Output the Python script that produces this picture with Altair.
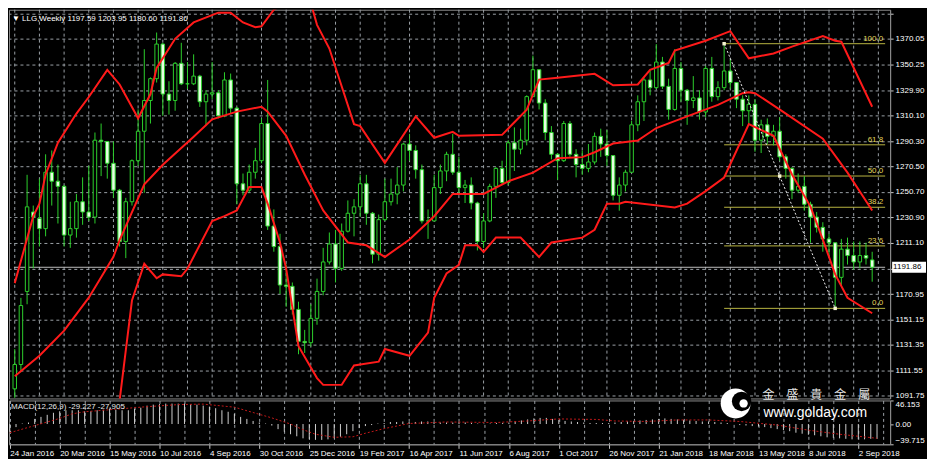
import json
import altair as alt
import pandas as pd

# ---------------- data (weekly candles, index 0 = week of 24 Jan 2016) ----------------
opens = [1097, 1116, 1173, 1235, 1230, 1222, 1266, 1259, 1255, 1217,
         1222, 1243, 1235, 1231, 1291, 1290, 1273, 1252, 1212, 1243,
         1275, 1298, 1322, 1339, 1366, 1327, 1322, 1351, 1335, 1335,
         1341, 1321, 1327, 1328, 1310, 1338, 1316, 1257, 1252, 1266,
         1275, 1304, 1224, 1208, 1178, 1177, 1159, 1134, 1133, 1152,
         1173, 1196, 1210, 1191, 1220, 1234, 1239, 1257, 1234, 1202,
         1229, 1243, 1249, 1256, 1288, 1283, 1268, 1228, 1228, 1254,
         1267, 1280, 1266, 1254, 1256, 1242, 1212, 1228, 1255, 1269,
         1258, 1289, 1284, 1291, 1325, 1346, 1320, 1297, 1280, 1275,
         1304, 1280, 1272, 1269, 1274, 1294, 1288, 1279, 1248, 1256,
         1266, 1303, 1321, 1338, 1332, 1352, 1333, 1315, 1347, 1330,
         1322, 1324, 1313, 1347, 1325, 1332, 1345, 1336, 1323, 1314,
         1319, 1291, 1303, 1294, 1298, 1278, 1269, 1252, 1255, 1241,
         1231, 1223, 1214, 1211, 1184, 1206, 1201, 1196, 1201, 1197.59]
highs = [1128, 1168, 1264, 1240, 1261, 1280, 1283, 1272, 1256, 1243,
         1249, 1262, 1271, 1297, 1304, 1290, 1290, 1253, 1246, 1276,
         1315, 1362, 1340, 1375, 1367, 1337, 1352, 1367, 1352, 1358,
         1342, 1330, 1352, 1330, 1344, 1343, 1317, 1265, 1272, 1285,
         1308, 1338, 1237, 1218, 1194, 1180, 1165, 1143, 1163, 1183,
         1207, 1219, 1221, 1226, 1244, 1245, 1264, 1264, 1235, 1233,
         1261, 1261, 1270, 1289, 1296, 1287, 1272, 1237, 1264, 1272,
         1282, 1296, 1278, 1260, 1262, 1243, 1234, 1257, 1270, 1275,
         1291, 1301, 1300, 1326, 1357, 1346, 1323, 1302, 1281, 1306,
         1306, 1284, 1283, 1288, 1297, 1300, 1299, 1279, 1262, 1268,
         1306, 1326, 1340, 1345, 1366, 1356, 1339, 1362, 1352, 1331,
         1341, 1330, 1349, 1356, 1337, 1365, 1354, 1336, 1326, 1326,
         1323, 1307, 1308, 1303, 1309, 1280, 1270, 1265, 1263, 1243,
         1235, 1227, 1218, 1211, 1214, 1215, 1212, 1212, 1211, 1203.95]
lows = [1090, 1110, 1163, 1191, 1208, 1216, 1240, 1226, 1208, 1207,
        1215, 1225, 1228, 1226, 1263, 1261, 1246, 1208, 1199, 1240,
        1271, 1250, 1304, 1336, 1310, 1311, 1314, 1334, 1331, 1334,
        1317, 1302, 1323, 1308, 1309, 1312, 1241, 1248, 1250, 1261,
        1273, 1221, 1204, 1171, 1161, 1155, 1124, 1125, 1130, 1147,
        1170, 1194, 1180, 1189, 1219, 1216, 1231, 1225, 1195, 1197,
        1228, 1240, 1241, 1251, 1275, 1261, 1226, 1214, 1228, 1249,
        1259, 1264, 1249, 1242, 1237, 1205, 1207, 1227, 1246, 1256,
        1256, 1267, 1280, 1287, 1325, 1315, 1291, 1276, 1260, 1274,
        1278, 1262, 1264, 1266, 1272, 1278, 1271, 1244, 1236, 1251,
        1266, 1298, 1306, 1326, 1331, 1331, 1307, 1314, 1321, 1303,
        1316, 1307, 1309, 1321, 1322, 1330, 1331, 1316, 1302, 1304,
        1282, 1281, 1288, 1287, 1275, 1261, 1245, 1250, 1236, 1211,
        1219, 1204, 1201, 1160, 1178, 1194, 1190, 1191, 1194, 1180.60]
closes = [1116, 1162, 1239, 1231, 1222, 1266, 1259, 1255, 1217, 1222,
          1243, 1235, 1231, 1291, 1290, 1273, 1252, 1212, 1243, 1275,
          1298, 1322, 1339, 1366, 1327, 1322, 1351, 1335, 1335, 1341,
          1321, 1327, 1328, 1310, 1338, 1316, 1257, 1252, 1266, 1275,
          1304, 1224, 1208, 1178, 1177, 1159, 1134, 1133, 1152, 1173,
          1196, 1210, 1191, 1220, 1234, 1239, 1257, 1234, 1202, 1229,
          1243, 1249, 1256, 1288, 1283, 1268, 1228, 1228, 1254, 1267,
          1280, 1266, 1254, 1256, 1242, 1212, 1228, 1255, 1269, 1258,
          1289, 1284, 1291, 1325, 1346, 1320, 1297, 1280, 1275, 1304,
          1280, 1272, 1269, 1274, 1294, 1288, 1279, 1248, 1256, 1266,
          1303, 1321, 1338, 1332, 1352, 1333, 1315, 1347, 1330, 1322,
          1324, 1313, 1347, 1325, 1332, 1345, 1336, 1323, 1314, 1319,
          1291, 1303, 1294, 1298, 1278, 1269, 1252, 1255, 1241, 1231,
          1223, 1214, 1211, 1184, 1206, 1201, 1196, 1201, 1199, 1191.86]
week_idx = list(range(len(closes)))

# Bollinger bands (week index, price)
upper_idx = [0, 3, 4, 5, 7, 10, 12, 15, 17, 20, 22, 23, 25, 26, 29, 33, 35, 37, 39, 40,
             42, 44, 46, 48, 49, 51, 55, 56, 60, 65, 68, 71, 72, 79, 83, 85, 88, 94, 97,
             101, 103, 106, 107, 112, 116, 119, 123, 126, 131, 133, 134, 139]
upper_val = [1179.5, 1231.7, 1241.5, 1264.2, 1289.1, 1311.8, 1324.7, 1345.9, 1334.5, 1308.1,
             1327.0, 1347.4, 1362.5, 1370.1, 1382.9, 1390.5, 1390.5, 1382.9, 1379.1, 1379.9,
             1392.8, 1398.0, 1418.0, 1398.0, 1381.0, 1362.5, 1303.5, 1302.0, 1273.3, 1309.6,
             1292.9, 1297.5, 1294.4, 1295.2, 1314.9, 1338.3, 1339.8, 1342.8, 1333.8, 1334.5,
             1345.9, 1351.2, 1361.0, 1368.6, 1376.1, 1354.9, 1358.7, 1364.0, 1372.3, 1368.6,
             1367.8, 1317.1]
mid_idx = [0, 4, 8, 12, 16, 17, 21, 24, 29, 32, 36, 40, 41, 44, 47, 50, 54, 57, 60, 64,
           68, 71, 76, 80, 84, 88, 92, 94, 97, 101, 104, 109, 114, 118, 119, 120, 125, 131,
           135, 139]
mid_val = [1106.9, 1122.8, 1142.4, 1168.1, 1200.0, 1213.0, 1256.6, 1271.8, 1293.7, 1307.3,
           1313.3, 1317.1, 1313.3, 1294.4, 1264.2, 1236.2, 1211.2, 1209.0, 1199.9, 1213.5,
           1231.7, 1249.1, 1249.1, 1258.9, 1265.7, 1277.0, 1277.8, 1281.6, 1288.4, 1290.7,
           1300.5, 1309.6, 1318.6, 1327.7, 1328.5, 1327.7, 1311.8, 1292.2, 1265.7, 1236.2]
low_idx = [0, 4, 8, 12, 15, 17, 19, 21, 23, 24, 27, 28, 32, 34, 36, 38, 40, 41, 43, 44,
           46, 49, 50, 53, 55, 59, 60, 64, 67, 68, 70, 72, 73, 75, 76, 78, 82, 85, 87, 92,
           94, 96, 98, 99, 107, 109, 112, 115, 119, 123, 126, 129, 131, 133, 135, 139]
low_val = [1034.0, 1004.0, 990.0, 1011.0, 1034.0, 1088.0, 1165.9, 1194.6, 1183.3, 1186.3,
           1184.8, 1190.8, 1227.9, 1231.7, 1236.2, 1254.4, 1254.4, 1241.5, 1211.2, 1190.8,
           1130.3, 1105.4, 1100.1, 1100.1, 1115.2, 1118.2, 1128.1, 1122.8, 1140.9, 1168.1,
           1187.0, 1193.8, 1209.0, 1209.0, 1203.7, 1215.0, 1215.0, 1199.9, 1211.2, 1215.0,
           1221.1, 1241.5, 1241.5, 1243.0, 1238.5, 1241.5, 1251.3, 1261.9, 1303.5, 1294.4,
           1264.2, 1239.2, 1213.5, 1186.3, 1168.1, 1156.0]

# MACD(12,26,9) histogram per week and signal line points
macd_hist = [-15, -6, 1, 3, 10, 14, 18, 22, 25, 27,
             27, 27, 25, 25, 27, 28, 30, 28, 27, 27,
             30, 32, 36, 38, 39, 40, 40, 40, 40, 39,
             38, 36, 34, 31, 27, 24, 20, 14, 10, 6,
             3, 1, -3, -10, -15, -20, -24, -28, -30, -31,
             -31, -30, -28, -25, -20, -14, -8, -4, -2, 1,
             2, 4, 4, 5, 4, 4, 5, 5, 4, 3,
             3, 3, 4, 3, 2, 1, 1, 1, 2, 2,
             3, 5, 7, 9, 11, 12, 12, 10, 8, 6,
             5, 4, 3, 2, 2, 2, 2, 3, 4, 5,
             6, 7, 8, 9, 10, 11, 10, 9, 8, 7,
             6, 5, 5, 4, 3, 2, 0, -2, -3, -4,
             -5, -6, -8, -10, -12, -14, -17, -19, -21, -22,
             -24, -26, -27, -28, -29, -30, -30, -30, -29, -29.227]
sig_idx = [0, 8, 10, 12, 22, 27, 31, 36, 42, 45, 47, 49, 52, 55, 57, 60, 64, 70, 78, 83,
           88, 94, 97, 102, 107, 112, 117, 123, 128, 133, 139]
sig_val = [-17, 11, 20, 24, 34, 38, 39, 33, 12, 0, -11, -20, -26, -25, -18, -9, 1, 4, 3, 6,
           10, 9, 6, 5, 8, 8, 5, -2, -12, -20, -27.905]

date_labels = ["24 Jan 2016", "20 Mar 2016", "15 May 2016", "10 Jul 2016", "4 Sep 2016",
               "30 Oct 2016", "25 Dec 2016", "19 Feb 2017", "16 Apr 2017", "11 Jun 2017",
               "6 Aug 2017", "1 Oct 2017", "26 Nov 2017", "21 Jan 2018", "18 Mar 2018",
               "13 May 2018", "8 Jul 2018", "2 Sep 2018"]
price_ticks = [1091.75, 1111.55, 1131.35, 1151.15, 1170.95, 1211.10, 1230.90, 1250.70,
               1270.50, 1290.30, 1310.10, 1329.90, 1350.25, 1370.05]
hidden_grid = [1190.75, 1389.85]
macd_ticks = [-39.715, 0.0, 46.153]

fib_levels = [0.0, 23.6, 38.2, 50.0, 61.8, 100.0]
fib_low, fib_high = 1159.8, 1366.3
fib_start, fib_mid, fib_end = 115, 124, 133
last_price = 1191.86
header = "\u25bc LLG,Weekly  1197.59 1203.95 1180.60 1191.86"
macd_title = "MACD(12,26,9) -29.227 -27.905"

# ---------------- styling ----------------
W, H1, H2 = 884, 390, 44
XDOM = [-0.125, 141.1]
YDOM = [1089.5, 1392.8]
MDOM = [-39.715, 46.153]
GREEN = "#2ccf2c"
BEAR_FILL = "#e6ffe2"
RED = "#ff1a1a"
GRID = "#9aa0a6"
FIB = "#b8b440"
FIBTXT = "#e0d45a"
FONT = "Liberation Sans"

grid_x = list(range(0, 141, 4))
labels_js = json.dumps(date_labels)


def xm(field):
    return alt.X(field, type="quantitative",
                 scale=alt.Scale(domain=XDOM, nice=False, zero=False), axis=None)


def ym(field):
    return alt.Y(field, type="quantitative",
                 scale=alt.Scale(domain=YDOM, nice=False, zero=False),
                 axis=alt.Axis(values=price_ticks + hidden_grid, orient="right",
                               labelExpr="datum.value > 1380 || (datum.value > 1190 && datum.value < 1191) ? '' : format(datum.value, '.2f')",
                               grid=True, gridColor=GRID, gridDash=[3, 3], tickSize=3,
                               tickColor="#c8c8c8", domainColor="#8a8a8a", labelPadding=2,
                               title=None))


candles = pd.DataFrame({"idx": week_idx, "open": opens, "high": highs,
                        "low": lows, "close": closes})
bands = pd.concat([
    pd.DataFrame({"idx": upper_idx, "val": upper_val, "band": "upper"}),
    pd.DataFrame({"idx": mid_idx, "val": mid_val, "band": "middle"}),
    pd.DataFrame({"idx": low_idx, "val": low_val, "band": "lower"}),
])
fib = pd.DataFrame({
    "level": fib_levels,
    "label": [f"{v:.1f}" for v in fib_levels],
    "price": [fib_low + (fib_high - fib_low) * v / 100 for v in fib_levels],
    "x0": fib_start, "x1": XDOM[1],
})
diag = pd.DataFrame({"idx": [fib_start, fib_end], "price": [fib_high, fib_low]})
marks = pd.DataFrame({"idx": [fib_start, fib_mid, fib_end],
                      "price": [fib_high, (fib_high + fib_low) / 2, fib_low]})
last_df = pd.DataFrame({"x0": [XDOM[0]], "x1": [XDOM[1]], "price": [last_price],
                        "txt": [f"{last_price:.2f}"]})
vgrid = pd.DataFrame({"g": grid_x})

base = alt.Chart(candles)

vgrid_main = alt.Chart(vgrid).mark_rule(color=GRID, strokeWidth=1, strokeDash=[3, 3]).encode(
    x=xm("g"))

price_line = alt.Chart(last_df).mark_rule(color="#bdbdbd", strokeWidth=1).encode(
    x=xm("x0"), x2="x1", y=ym("price"))

fib_lines = alt.Chart(fib).mark_rule(color=FIB, strokeWidth=1).encode(
    x=xm("x0"), x2="x1", y=ym("price"))
fib_text = alt.Chart(fib).mark_text(color=FIBTXT, align="right", baseline="bottom",
                                    dx=-2, dy=-1, fontSize=8, font=FONT).encode(
    x=xm("x1"), y=ym("price"), text="label")

wicks = base.mark_rule(color=GREEN, strokeWidth=1, clip=True).encode(
    x=xm("idx"), y=ym("low"), y2="high")
bodies = base.mark_bar(size=3.5, stroke=GREEN, strokeWidth=1, clip=True).encode(
    x=xm("idx"), y=ym("open"), y2="close",
    fill=alt.condition("datum.close < datum.open", alt.value(BEAR_FILL), alt.value("#000000")))

band_lines = alt.Chart(bands).mark_line(color=RED, strokeWidth=2, clip=True).encode(
    x=xm("idx"), y=ym("val"), detail="band:N", order="idx:Q")

diag_line = alt.Chart(diag).mark_line(color="#f0f0f0", strokeWidth=1, strokeDash=[2, 2]).encode(
    x=xm("idx"), y=ym("price"))
diag_marks = alt.Chart(marks).mark_point(shape="square", filled=True, size=12,
                                         color="#f4f4d0", opacity=1).encode(
    x=xm("idx"), y=ym("price"))

price_box = alt.Chart(last_df).mark_tick(color="#ffffff", thickness=11, size=34,
                                         orient="horizontal", opacity=1).encode(
    x=alt.value(W + 19), y=ym("price"))
price_txt = alt.Chart(last_df).mark_text(color="#000000", align="left", baseline="middle",
                                         fontSize=8, font=FONT).encode(
    x=alt.value(W + 3), y=ym("price"), text="txt")

head = alt.Chart(pd.DataFrame({"t": [header]})).mark_text(
    color="#ffffff", align="left", baseline="middle", fontSize=8, font=FONT).encode(
    x=alt.value(3), y=alt.value(9), text="t")

main = alt.layer(vgrid_main, price_line, fib_lines, fib_text, wicks, bodies, band_lines,
                 diag_line, diag_marks, price_box, price_txt, head).properties(
    width=W, height=H1)

# ---------------- MACD panel ----------------
def xb(field):
    return alt.X(field, type="quantitative",
                 scale=alt.Scale(domain=XDOM, nice=False, zero=False),
                 axis=alt.Axis(values=grid_x, grid=True, gridColor=GRID, gridDash=[3, 3],
                               labelExpr=f"datum.value % 8 == 0 ? {labels_js}[datum.value / 8] : ''",
                               labelAlign="left", labelPadding=1, labelOverlap=False,
                               labelFlush=False, tickSize=4, tickColor="#c8c8c8",
                               tickOpacity={"condition": {"test": "datum.value % 8 == 0", "value": 1},
                                            "value": 0},
                               domainColor="#8a8a8a", title=None))


def yb(field):
    return alt.Y(field, type="quantitative",
                 scale=alt.Scale(domain=MDOM, nice=False, zero=False),
                 axis=alt.Axis(values=macd_ticks, orient="right", grid=False,
                               labelExpr="datum.value == 0 ? '0.00' : format(datum.value, '.3f')",
                               labelFlush=True, tickSize=3, tickColor="#c8c8c8",
                               domainColor="#8a8a8a", labelPadding=2, title=None))


mdf = pd.DataFrame({"idx": week_idx, "macd": macd_hist, "zero": 0.0})
sdf = pd.DataFrame({"idx": sig_idx, "sig": sig_val})

hist = alt.Chart(mdf).mark_rule(color="#cfcfcf", strokeWidth=1, clip=True).encode(
    x=xb("idx"), y=yb("zero"), y2="macd")
sig = alt.Chart(sdf).mark_line(color="#c01818", strokeWidth=1, strokeDash=[2, 2], clip=True).encode(
    x=xb("idx"), y=yb("sig"))
mtitle = alt.Chart(pd.DataFrame({"t": [macd_title]})).mark_text(
    color="#e8e8e8", align="left", baseline="middle", fontSize=8, font=FONT).encode(
    x=alt.value(2), y=alt.value(7), text="t")

logo_df = pd.DataFrame({"t": ["x"]})
logo_outer = alt.Chart(logo_df).mark_point(shape="circle", filled=True, size=900,
                                           color="#ffffff", opacity=1).encode(
    x=alt.value(729), y=alt.value(3))
logo_inner = alt.Chart(logo_df).mark_point(shape="circle", filled=True, size=380,
                                           color="#000000", opacity=1).encode(
    x=alt.value(735), y=alt.value(1))
logo_dot = alt.Chart(logo_df).mark_point(shape="circle", filled=True, size=70,
                                         color="#ffffff", opacity=1).encode(
    x=alt.value(737), y=alt.value(3))
logo_cn = alt.Chart(pd.DataFrame({"t": ["\u91d1\u3000\u76db\u3000\u8cb4\u3000\u91d1\u3000\u5c6c"]})).mark_text(
    color="#e6e6e6", align="left", baseline="middle", fontSize=12,
    font="Noto Sans CJK TC").encode(x=alt.value(756), y=alt.value(-5), text="t")
logo_url = alt.Chart(pd.DataFrame({"t": ["www.golday.com"]})).mark_text(
    color="#ffffff", align="left", baseline="middle", fontSize=14, font=FONT).encode(
    x=alt.value(757), y=alt.value(13), text="t")

macd = alt.layer(hist, sig, mtitle, logo_outer, logo_inner, logo_dot, logo_cn,
                 logo_url).properties(width=W, height=H2)

chart = alt.vconcat(main, macd, spacing=2, bounds="flush").properties(
    background="#000000", padding={"left": 0, "top": 0, "right": 0, "bottom": 0}
).configure_view(stroke="#8a8a8a", strokeWidth=1).configure_axis(
    labelColor="#ffffff", labelFont=FONT, labelFontSize=8
)

chart.save("out.html", embed_options={"renderer": "svg", "actions": False})
